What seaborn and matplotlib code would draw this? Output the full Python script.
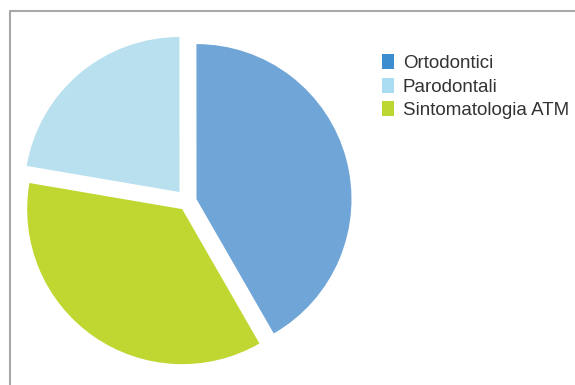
import matplotlib
matplotlib.use('Agg')
import matplotlib.pyplot as plt
import seaborn as sns
from matplotlib.lines import Line2D
from matplotlib.patches import Patch

categories = ['Ortodontici', 'Parodontali', 'Sintomatologia ATM']
values = [41.7, 22.3, 36.0]
slice_colors = ['#70a5d7', '#b8e0ee', '#bfd730']
legend_colors = ['#3b8dd0', '#aadcf2', '#bdd631']
explode = [0.06, 0.08, 0.06]

sns.set_style('white')
plt.rcParams['font.family'] = ['Liberation Sans', 'DejaVu Sans']

W, H = 575, 385
fig = plt.figure(figsize=(W / 100, H / 100), dpi=100)

# pie centre / radius in pixels
cx, cy, r = 187.5, H - 201.5, 155
lim = 1.18
size = 2 * lim * r
ax = fig.add_axes([(cx - lim * r) / W, (cy - lim * r) / H, size / W, size / H])
ax.pie(values, colors=slice_colors, explode=explode, startangle=-60.1,
       counterclock=True, wedgeprops=dict(linewidth=0))
ax.set_xlim(-lim, lim)
ax.set_ylim(-lim, lim)
ax.set_aspect('auto')
ax.axis('off')

handles = [Patch(facecolor=c, edgecolor='none') for c in legend_colors]
leg = fig.legend(handles, categories, loc='upper left',
                 bbox_to_anchor=(382 / W, 1 - 54 / H), frameon=False,
                 fontsize=13.5, handlelength=0.62, handleheight=0.85,
                 handletextpad=0.5, labelspacing=0.3, borderpad=0,
                 borderaxespad=0)
for t in leg.get_texts():
    t.set_color('#333333')

# grey frame on top and left
fig.add_artist(Line2D([9.5 / W, 9.5 / W, 1], [0, 1 - 10.5 / H, 1 - 10.5 / H],
                      color='#a8a8a8', linewidth=1.5, transform=fig.transFigure))

fig.savefig('out.png', dpi=100)
